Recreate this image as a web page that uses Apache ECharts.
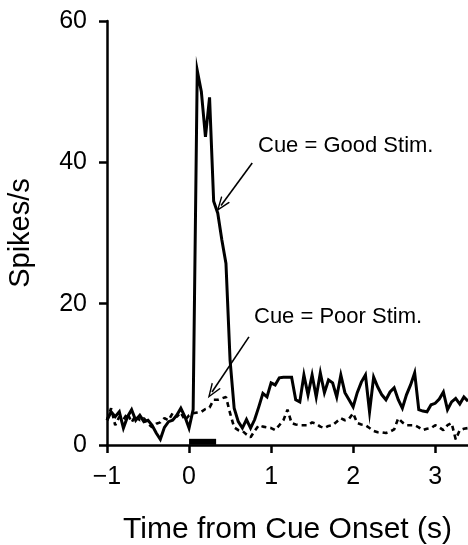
<!DOCTYPE html>
<html>
<head>
<meta charset="utf-8">
<script src="https://cdn.jsdelivr.net/npm/echarts@6/dist/echarts.min.js"></script>
<style>
html,body{margin:0;padding:0;background:#fff;}
#chart{width:468px;height:545px;}
</style>
</head>
<body>
<div id="chart"></div>
<script>
// Time bins (s)
var times = [-1.00,-0.95,-0.90,-0.85,-0.80,-0.75,-0.70,-0.65,-0.60,-0.55,-0.50,-0.45,-0.40,-0.35,-0.30,-0.25,-0.20,-0.15,-0.10,-0.05,
  0.00,0.05,0.10,0.15,0.20,0.25,0.30,0.35,0.40,0.45,0.50,0.55,0.60,0.65,0.70,0.75,0.80,0.85,0.90,0.95,
  1.00,1.05,1.10,1.15,1.20,1.25,1.30,1.35,1.40,1.45,1.50,1.55,1.60,1.65,1.70,1.75,1.80,1.85,1.90,1.95,
  2.00,2.05,2.10,2.15,2.20,2.25,2.30,2.35,2.40,2.45,2.50,2.55,2.60,2.65,2.70,2.75,2.80,2.85,2.90,2.95,
  3.00,3.05,3.10,3.15,3.20,3.25,3.30,3.35,3.40];
// Cue = Good Stim. (spikes/s)
var goodStim = [3.5,4.7,4.0,4.7,2.4,4.0,5.0,3.5,4.2,3.3,3.5,2.8,1.7,0.8,2.5,3.3,3.5,4.2,5.2,4.0,
  2.4,5.0,53,50,43.6,49.2,34.5,32.8,29,25.7,12,5.2,3.3,2.4,3.6,2.4,3.6,5.4,7.3,6.8,
  8.8,8.5,9.5,9.6,9.6,9.6,6.4,6.1,9.9,7.1,9.9,6.8,10.2,7.4,9.2,8.8,6.8,9.9,7.4,6.4,
  5.4,7.4,8.9,9.9,4.7,9.6,8.2,7.1,6.4,7.5,8.1,6.4,5.2,7.1,8.5,10.2,5.0,4.8,4.7,5.7,
  5.9,6.5,7.5,5.0,6.1,6.6,5.8,6.8,6.2];
// Cue = Poor Stim. (spikes/s)
var poorStim = [3.5,5.2,2.8,4.0,3.6,4.5,3.2,4.2,3.5,3.8,3.0,2.5,3.0,3.2,3.8,3.5,4.5,4.0,4.6,3.5,
  4.2,4.5,4.6,4.7,5.1,5.3,6.4,6.4,6.6,6.8,4.5,2.5,2.1,2.0,1.5,1.1,2.0,2.8,2.6,2.5,
  2.4,2.1,2.8,3.5,5.0,3.1,2.9,2.8,2.8,2.8,3.2,3.0,2.6,2.4,2.7,2.8,3.3,3.8,3.5,3.7,
  4.5,3.1,2.9,2.8,2.4,2.0,1.8,1.8,1.7,1.9,2.2,3.8,3.2,2.8,2.8,2.8,2.5,2.1,2.3,2.4,
  2.8,2.5,2.1,2.8,3.1,0.8,2.1,2.3,2.4];
// Cue stimulus period bar
var stimBarTimes = [0, 0.33];
var stimBarLevel = 0.45;
// Axis ticks
var xTicks = [-1, 0, 1, 2, 3];
var yTicks = [0, 20, 40, 60];
// Annotation arrows [from, to] in data coords
var goodArrow = [[0.77, 39.9], [0.39, 33.9]];
var poorArrow = [[0.73, 15.3], [0.28, 7.5]];
var goodLabel = 'Cue = Good Stim.';
var poorLabel = 'Cue = Poor Stim.';

var FONT = '"Liberation Sans", Arial, Helvetica, sans-serif';
var chart = echarts.init(document.getElementById('chart'), null, {renderer: 'canvas'});

function pairs(xs, ys) { return xs.map(function (t, i) { return [t, ys[i]]; }); }
var arrowHead = 'path://M0,12 L5,0 L10,12 L8.6,12 L5,3.2 L1.4,12 Z';

function arrowLine(a) {
  return [{coord: a[0], symbol: 'none'}, {coord: a[1], symbol: arrowHead, symbolSize: [11, 15]}];
}

var option = {
  backgroundColor: '#fff',
  animation: false,
  grid: {left: 107, right: 0, top: 21, bottom: 100, containLabel: false, outerBoundsMode: 'none'},
  xAxis: {
    type: 'value', min: xTicks[0], max: 3.4, interval: 1,
    name: 'Time from Cue Onset (s)', nameLocation: 'middle', nameGap: 70,
    nameTextStyle: {fontFamily: FONT, fontSize: 30, color: '#000'},
    axisLine: {show: true, onZero: false, lineStyle: {color: '#000', width: 2.5}},
    axisTick: {show: true, length: 8, lineStyle: {color: '#000', width: 2.5}, customValues: xTicks},
    axisLabel: {fontFamily: FONT, fontSize: 25, color: '#000', margin: 20, customValues: xTicks,
      hideOverlap: false,
      formatter: function (v) { return v < 0 ? '\u2212' + Math.abs(v) : String(v); }},
    splitLine: {show: false}
  },
  yAxis: {
    type: 'value', min: yTicks[0], max: yTicks[yTicks.length - 1], interval: 20,
    name: 'Spikes/s', nameLocation: 'middle', nameGap: 72,
    nameTextStyle: {fontFamily: FONT, fontSize: 29, color: '#000'},
    axisLine: {show: true, onZero: false, lineStyle: {color: '#000', width: 2.5}},
    axisTick: {show: true, length: 8, lineStyle: {color: '#000', width: 2.5}},
    axisLabel: {fontFamily: FONT, fontSize: 25, color: '#000', margin: 20},
    splitLine: {show: false}
  },
  series: [
    {
      name: 'Cue = Poor Stim.', type: 'line', data: pairs(times, poorStim),
      showSymbol: false, symbol: 'none', z: 3,
      lineStyle: {color: '#000', width: 2.6, type: [5, 4]},
      markLine: {
        silent: true, animation: false, symbol: ['none', arrowHead],
        lineStyle: {color: '#000', width: 1.6, type: 'solid'},
        label: {show: false},
        data: [arrowLine(poorArrow)]
      }
    },
    {
      name: 'Cue = Good Stim.', type: 'line', data: pairs(times, goodStim),
      showSymbol: false, symbol: 'none', z: 4,
      lineStyle: {color: '#000', width: 3, join: 'miter'},
      markLine: {
        silent: true, animation: false, symbol: ['none', arrowHead],
        lineStyle: {color: '#000', width: 1.6, type: 'solid'},
        label: {show: false},
        data: [arrowLine(goodArrow)]
      }
    },
    {
      name: 'stim', type: 'line', data: stimBarTimes.map(function (t) { return [t, stimBarLevel]; }),
      showSymbol: false, symbol: 'none', z: 5,
      lineStyle: {color: '#000', width: 6, cap: 'butt'}
    }
  ],
  graphic: [
    {type: 'text', left: 258, top: 135, style: {text: goodLabel, font: '22px ' + FONT, fill: '#000'}},
    {type: 'text', left: 254, top: 306, style: {text: poorLabel, font: '22px ' + FONT, fill: '#000'}}
  ]
};
chart.setOption(option);
</script>
</body>
</html>
